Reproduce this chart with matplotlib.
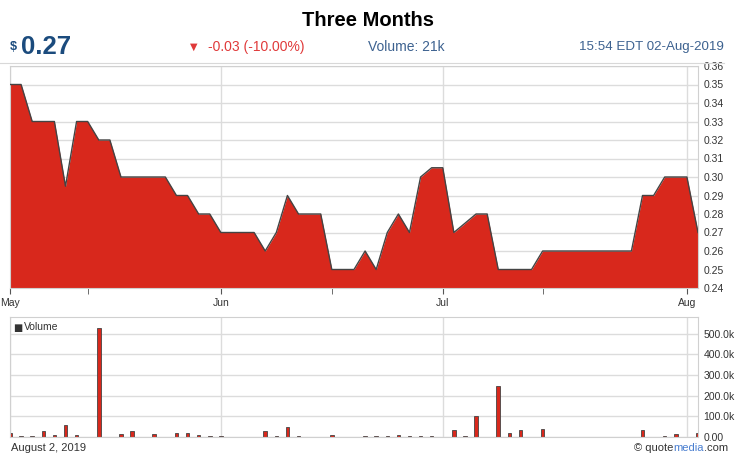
import numpy as np
import matplotlib
matplotlib.use("Agg")
import matplotlib.pyplot as plt
from matplotlib.ticker import FuncFormatter

plt.rcParams["font.family"] = ["Liberation Sans", "DejaVu Sans"]

# Trading-day index and closing prices
days = np.arange(63)
prices = [0.35, 0.35, 0.33, 0.33, 0.33, 0.295, 0.33, 0.33, 0.32, 0.32,
          0.30, 0.30, 0.30, 0.30, 0.30, 0.29, 0.29, 0.28, 0.28, 0.27,
          0.27, 0.27, 0.27, 0.26, 0.27, 0.29, 0.28, 0.28, 0.28, 0.25,
          0.25, 0.25, 0.26, 0.25, 0.27, 0.28, 0.27, 0.30, 0.305, 0.305,
          0.27, 0.275, 0.28, 0.28, 0.25, 0.25, 0.25, 0.25, 0.26, 0.26,
          0.26, 0.26, 0.26, 0.26, 0.26, 0.26, 0.26, 0.29, 0.29, 0.30,
          0.30, 0.30, 0.27]

# Daily volume in thousands
volume_k = [20, 5, 5, 27, 11, 56, 11, 0, 528, 0,
            16, 29, 0, 16, 0, 21, 21, 10, 5, 5,
            0, 0, 0, 27, 6, 50, 5, 0, 0, 10,
            0, 0, 4, 4, 4, 8, 4, 4, 4, 0,
            32, 5, 100, 0, 245, 21, 32, 0, 39, 0,
            0, 0, 0, 0, 0, 0, 0, 32, 0, 5,
            16, 0, 21]

month_pos = [0, 19, 39, 61]
month_labels = ["May", "Jun", "Jul", "Aug"]
mid_pos = [7, 29, 48]

red = "#d8281c"
edge = "#444444"
grid = "#dcdcdc"
blue = "#1b4b7d"
slate = "#3d6290"

fig = plt.figure(figsize=(7.35, 4.53), dpi=100)

# header
fig.text(0.5, 0.955, "Three Months", ha="center", va="center", fontsize=14.5,
         fontweight="bold", color="black")
fig.text(0.013, 0.897, "$", ha="left", va="center", fontsize=9, color=blue, fontweight="bold")
fig.text(0.029, 0.897, "0.27", ha="left", va="center", fontsize=18.5, color=blue, fontweight="bold")
fig.text(0.263, 0.897, "\u25bc", ha="center", va="center", fontsize=7, color="#e03a3a",
         family=["DejaVu Sans"])
fig.text(0.283, 0.897, "-0.03 (-10.00%)", ha="left", va="center", fontsize=10, color="#e03a3a")
fig.text(0.500, 0.897, "Volume: 21k", ha="left", va="center", fontsize=10, color=slate)
fig.text(0.985, 0.897, "15:54 EDT 02-Aug-2019", ha="right", va="center", fontsize=9.6, color=slate)
fig.add_artist(plt.Line2D([0.0, 0.985], [0.862, 0.862], color="#d8d8d8", lw=0.8))

# price panel
ax = fig.add_axes([10 / 735, 1 - 288 / 453, 688 / 735, 222 / 453])
ax.fill_between(days, prices, 0.24, color=red, lw=0, zorder=2)
ax.plot(days, prices, color=edge, lw=1, zorder=3)
ax.set_xlim(0, 62)
ax.set_ylim(0.24, 0.36)
ax.set_yticks(np.arange(0.24, 0.365, 0.01))
ax.yaxis.tick_right()
ax.yaxis.set_major_formatter(FuncFormatter(lambda v, p: f"{v:.2f}"))
ax.set_xticks(month_pos)
ax.set_xticklabels(month_labels)
ax.set_xticks(mid_pos, minor=True)
ax.tick_params(axis="y", length=0, labelsize=7.5, pad=4, labelcolor="#333333")
ax.tick_params(axis="x", which="both", length=4, color="#555555", labelsize=7.5,
               labelcolor="#333333", pad=3)
ax.grid(True, axis="both", which="major", color=grid, lw=1, zorder=0)
for s in ax.spines.values():
    s.set_color("#d0d0d0")
ax.set_axisbelow(True)

# volume panel
axv = fig.add_axes([10 / 735, 1 - 437 / 453, 688 / 735, 120 / 453])
axv.bar(days, volume_k, width=0.32, color=red, edgecolor=edge, lw=0.6, zorder=2)
axv.set_xlim(0, 62)
axv.set_ylim(0, 580)
axv.set_yticks([0, 100, 200, 300, 400, 500])
axv.yaxis.tick_right()
axv.yaxis.set_major_formatter(FuncFormatter(lambda v, p: "0.00" if v == 0 else f"{v:.1f}k"))
axv.set_xticks(month_pos)
axv.set_xticklabels([])
axv.tick_params(axis="y", length=0, labelsize=7.5, pad=4, labelcolor="#333333")
axv.tick_params(axis="x", length=0)
axv.grid(True, color=grid, lw=1, zorder=0)
for s in axv.spines.values():
    s.set_color("#d0d0d0")
axv.set_axisbelow(True)
axv.text(0.005, 0.95, "\u25a0", transform=axv.transAxes, ha="left", va="top",
         fontsize=7, color="#333333", family=["DejaVu Sans"])
axv.text(0.021, 0.955, "Volume", transform=axv.transAxes, ha="left", va="top",
         fontsize=7.5, color="#333333")

# footer
fy = 1 - 448 / 453
fig.text(0.015, fy, "August 2, 2019", ha="left", va="center", fontsize=8, color="#333333")
fig.canvas.draw()
r = fig.canvas.get_renderer()
x_right = 728 / 735
pieces = [(".com", "#333333"), ("media", "#4a7fd0"), ("\u00a9 quote", "#333333")]
for txt, col in pieces:
    t = fig.text(x_right, fy, txt, ha="right", va="center", fontsize=8, color=col)
    x_right -= t.get_window_extent(r).width / fig.bbox.width

fig.savefig("out.png", dpi=100)
